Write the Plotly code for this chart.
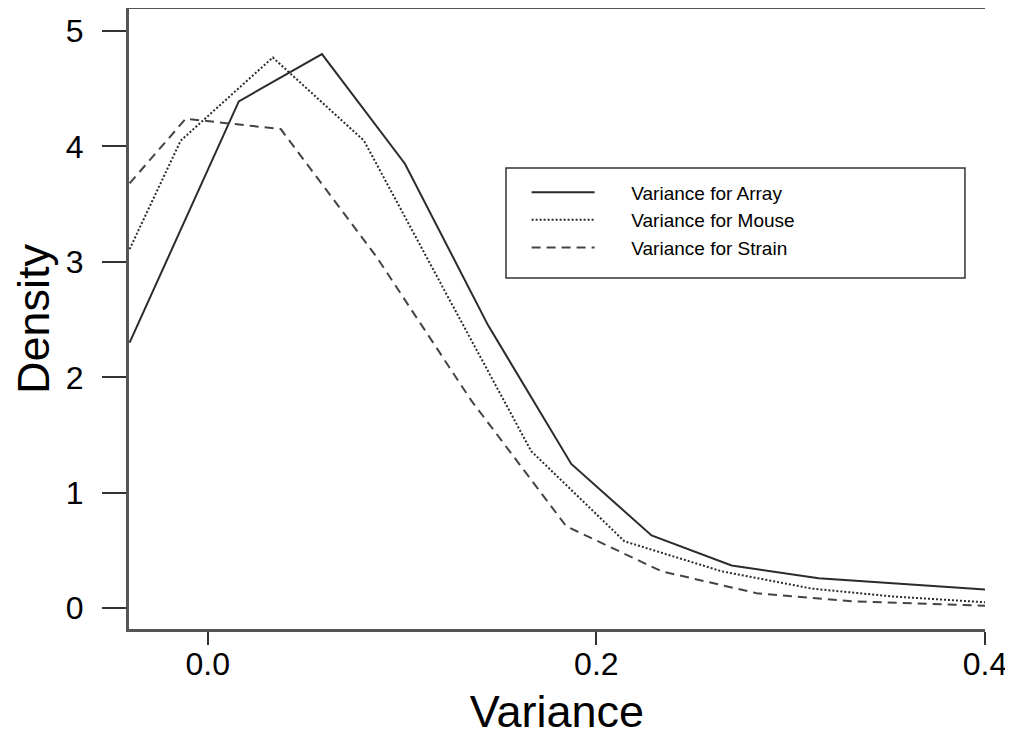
import plotly.graph_objects as go

# density curves
array_x = [-0.0402, 0.016, 0.0588, 0.1015, 0.1443, 0.1871, 0.2284, 0.2696, 0.3144, 0.402]
array_y = [2.30, 4.39, 4.80, 3.85, 2.45, 1.25, 0.63, 0.37, 0.26, 0.16]

mouse_x = [-0.0402, -0.0139, 0.0335, 0.0804, 0.1232, 0.1665, 0.2144, 0.2644, 0.3108, 0.3536, 0.402]
mouse_y = [3.11, 4.05, 4.77, 4.05, 2.71, 1.36, 0.58, 0.32, 0.17, 0.10, 0.05]

strain_x = [-0.0402, -0.0113, 0.0376, 0.0866, 0.1356, 0.1845, 0.2335, 0.2825, 0.3314, 0.3804, 0.402]
strain_y = [3.68, 4.24, 4.15, 3.05, 1.80, 0.71, 0.32, 0.13, 0.06, 0.03, 0.02]

x_ticks = [0.0, 0.2, 0.4]
x_ticklabels = ["0.0", "0.2", "0.4"]
y_ticks = [0, 1, 2, 3, 4, 5]

font = "Liberation Sans, Arial, sans-serif"
ink = "#2b2b2b"
pad = "\u00a0" * 6

fig = go.Figure()
fig.add_trace(go.Scatter(x=array_x, y=array_y, mode="lines", name=pad + "Variance for Array",
                         line=dict(color=ink, width=2, dash="solid")))
fig.add_trace(go.Scatter(x=mouse_x, y=mouse_y, mode="lines", name=pad + "Variance for Mouse",
                         line=dict(color=ink, width=2, dash="2px,2px")))
fig.add_trace(go.Scatter(x=strain_x, y=strain_y, mode="lines", name=pad + "Variance for Strain",
                         line=dict(color="#444444", width=2, dash="9px,6px")))

# legend frame
fig.add_shape(type="rect", xref="paper", yref="paper",
              x0=0.4404, x1=0.9766, y0=0.566, y1=0.7435,
              line=dict(color="#333333", width=1.5), fillcolor="white", layer="below")

fig.update_layout(
    width=1005, height=732,
    margin=dict(l=121, r=28, t=1, b=111, autoexpand=False),
    paper_bgcolor="white", plot_bgcolor="white",
    font=dict(family=font, size=32, color="black"),
    showlegend=True,
    legend=dict(x=0.4645, y=0.735, xanchor="left", yanchor="top",
                bgcolor="rgba(0,0,0,0)", font=dict(size=19, family=font),
                itemwidth=63, tracegroupgap=0),
    xaxis=dict(range=[-0.0405, 0.4], tickvals=x_ticks, ticktext=x_ticklabels,
               showgrid=False, zeroline=False, automargin=False,
               showline=True, linecolor="#555555", linewidth=3, mirror=True,
               ticks="outside", ticklen=13, tickwidth=2, tickcolor="#333333",
               ticklabelstandoff=-8,
               title=dict(text="Variance", standoff=15, font=dict(size=45))),
    yaxis=dict(range=[-0.18, 5.19], tickvals=y_ticks,
               showgrid=False, zeroline=False, automargin=False,
               showline=True, linecolor="#555555", linewidth=3,
               ticks="outside", ticklen=24, tickwidth=1.5, tickcolor="#333333",
               ticklabelstandoff=12,
               title=dict(text="Density", standoff=10, font=dict(size=45))),
)

fig.write_html("out.html")
